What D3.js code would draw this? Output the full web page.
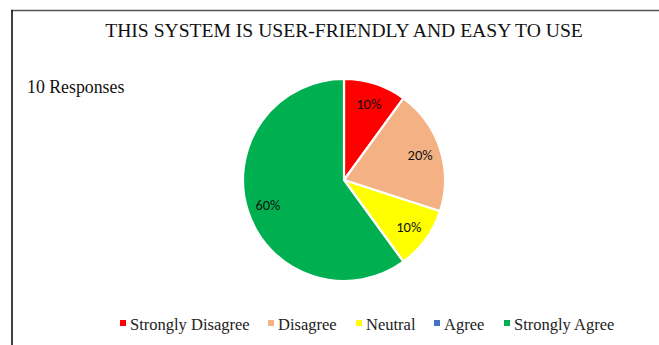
<!DOCTYPE html>
<html><head><meta charset="utf-8">
<script src="https://cdn.jsdelivr.net/npm/d3@7"></script>
<style>html,body{margin:0;padding:0;background:#fff;}</style>
</head><body>
<svg id="c" width="659" height="345"></svg>
<script>
const categories = ["Strongly Disagree", "Disagree", "Neutral", "Agree", "Strongly Agree"];
const values = [1, 2, 1, 0, 6];
const colors = ["#FF0000", "#F4B183", "#FFFF00", "#4472C4", "#00B050"];
const title = "THIS SYSTEM IS USER-FRIENDLY AND EASY TO USE";
const subtitle = "10 Responses";

const svg = d3.select("#c");
// frame lines
svg.append("line").attr("x1", 11).attr("x2", 659).attr("y1", 10.5).attr("y2", 10.5).attr("stroke", "#555").attr("stroke-width", 1.5);
svg.append("line").attr("x1", 12).attr("x2", 12).attr("y1", 10).attr("y2", 345).attr("stroke", "#000").attr("stroke-width", 1.5);

svg.append("text").attr("x", 344).attr("y", 37).attr("text-anchor", "middle")
  .attr("font-family", "Liberation Serif, Times New Roman, serif").attr("font-size", 19.6).attr("fill", "#111").text(title);
svg.append("text").attr("x", 27).attr("y", 93)
  .attr("font-family", "Liberation Serif, Times New Roman, serif").attr("font-size", 17.8).attr("fill", "#111").text(subtitle);

const total = d3.sum(values);
const color = d3.scaleOrdinal().domain(categories).range(colors);
const pie = d3.pie().sort(null).value(d => d.v);
const data = categories.map((c, i) => ({c, v: values[i]}));
const R = 101;
const arc = d3.arc().innerRadius(0).outerRadius(R);
const labelArc = d3.arc().innerRadius(80).outerRadius(80);
const g = svg.append("g").attr("transform", "translate(344,180)");
const arcs = pie(data);
g.selectAll("path").data(arcs).join("path")
  .attr("d", arc).attr("fill", d => color(d.data.c))
  .attr("stroke", "#fff").attr("stroke-width", 2.2).attr("stroke-linejoin", "round");
g.selectAll("text").data(arcs.filter(d => d.data.v > 0)).join("text")
  .attr("transform", d => `translate(${labelArc.centroid(d)})`)
  .attr("text-anchor", "middle").attr("dy", "0.35em")
  .attr("font-family", "Carlito, Open Sans, Liberation Sans, sans-serif").attr("font-size", 14.5).attr("fill", "#111")
  .text(d => Math.round(d.data.v / total * 100) + "%");

// legend
const legX = [120, 268, 356, 434, 504];
const leg = svg.append("g").attr("font-family", "Liberation Serif, Times New Roman, serif").attr("font-size", 16.5);
categories.forEach((c, i) => {
  const it = leg.append("g").attr("transform", `translate(${legX[i]},325)`);
  it.append("rect").attr("x", 0).attr("y", -5).attr("width", 6).attr("height", 6).attr("fill", color(c));
  it.append("text").attr("x", 10).attr("y", 5).attr("fill", "#222").text(c);
});
</script>
</body></html>
